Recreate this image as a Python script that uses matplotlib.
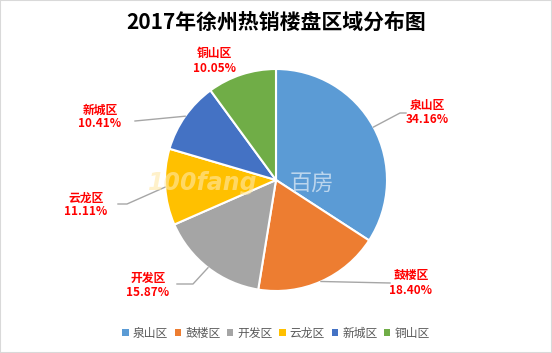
import numpy as np
import matplotlib
matplotlib.use("Agg")
import matplotlib.pyplot as plt
from matplotlib.patches import Rectangle

plt.rcParams['font.family'] = ['Noto Sans CJK SC', 'DejaVu Sans']

categories = ['泉山区', '鼓楼区', '开发区', '云龙区', '新城区', '铜山区']
shares = [34.16, 18.40, 15.87, 11.11, 10.41, 10.05]
colors = ['#5B9BD5', '#ED7D31', '#A5A5A5', '#FFC000', '#4472C4', '#70AD47']
title = '2017年徐州热销楼盘区域分布图'

W, H = 552, 353
cx, cy, R = 276, 180, 111  # pixel layout of pie

fig = plt.figure(figsize=(W / 100, H / 100), dpi=100)
fig.patch.set_facecolor('white')
ax = fig.add_axes([0, 0, 1, 1])
ax.axis('off')

wedges, _ = ax.pie(shares, colors=colors, startangle=90, counterclock=False,
                   radius=1.0, center=(0, 0),
                   wedgeprops=dict(edgecolor='white', linewidth=1.5))
ax.set_xlim(-cx / R, (W - cx) / R)
ax.set_ylim(-(H - cy) / R, cy / R)
ax.set_aspect('auto')

def p2d(px, py):
    return ((px - cx) / R, (cy - py) / R)

# label layout (pixel): text center, leader line path after the wedge edge point
label_pos = [(427, 113), (411, 283), (148, 285), (86, 205), (100, 117), (214, 61)]
elbows = [[(400, 113), (406, 113)],
          [(390, 283)],
          [(193, 284), (177, 284)],
          [(127, 204), (118, 204)],
          [(135, 121)],
          None]

for w, name, val, lp, el in zip(wedges, categories, shares, label_pos, elbows):
    ang = np.deg2rad((w.theta1 + w.theta2) / 2)
    ex, ey = np.cos(ang), np.sin(ang)
    if el is not None:
        pts = [(ex, ey)] + [p2d(*p) for p in el]
        xs, ys = zip(*pts)
        ax.plot(xs, ys, color='#A6A6A6', lw=1.0, zorder=1)
    tx, ty = p2d(*lp)
    ax.text(tx, ty, f'{name}\n{val:.2f}%', ha='center', va='center',
            color='#FF0000', fontsize=8.5, fontweight='bold', linespacing=1.1)

# watermark
ax.text(*p2d(203, 183), '100fang', ha='center', va='center', fontsize=17,
        fontweight='bold', style='italic', color='#FFE9A8', alpha=0.6,
        family='DejaVu Sans', zorder=5)
ax.text(*p2d(312, 183), '百房', ha='center', va='center', fontsize=16,
        color='#DCE9F6', alpha=0.75, zorder=5)

fig.text(0.5, 1 - 22 / H, title, ha='center', va='center', fontsize=15,
         fontweight='bold', color='#000000')

handles = [Rectangle((0, 0), 1, 1, facecolor=c, edgecolor='none') for c in colors]
leg = fig.legend(handles, categories, loc='center', bbox_to_anchor=(0.5, 1 - 333 / H),
                 ncol=6, frameon=False, fontsize=8.5, handlelength=0.55, handleheight=0.55,
                 handletextpad=0.35, columnspacing=0.55)
for t in leg.get_texts():
    t.set_color('#595959')

fig.patches.append(Rectangle((0, 0), 1, 1, transform=fig.transFigure, fill=False,
                             edgecolor='#D9D9D9', linewidth=1.5))

fig.savefig('out.png', dpi=100)
